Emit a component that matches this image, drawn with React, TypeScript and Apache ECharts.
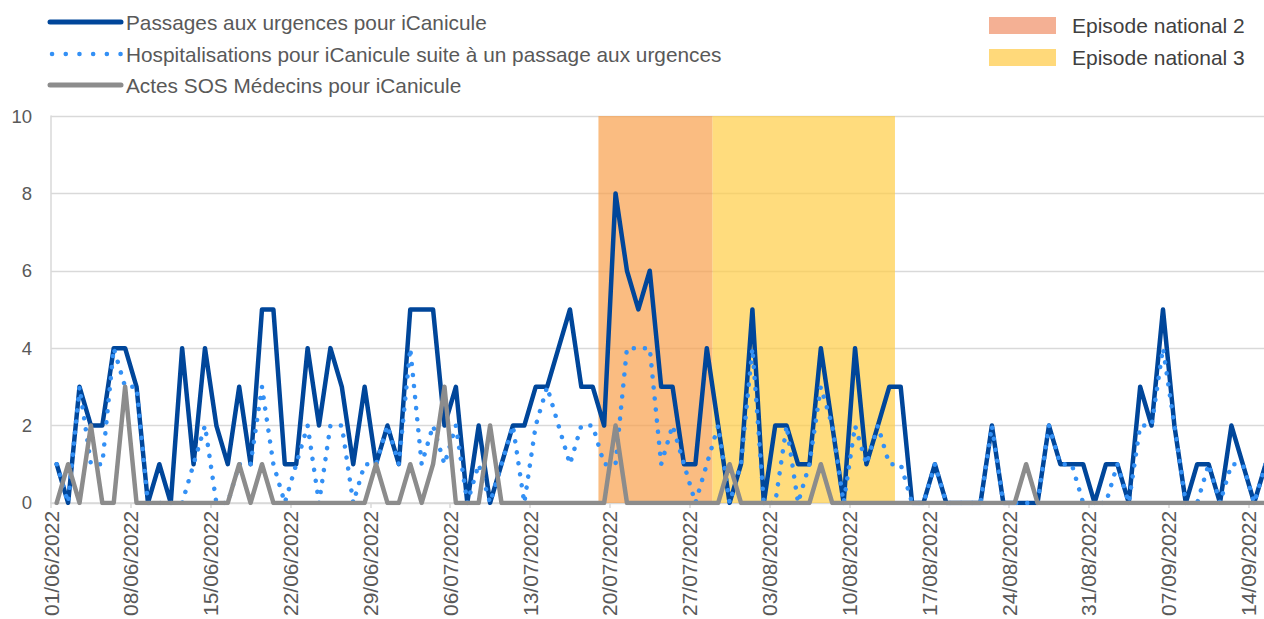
import React, { useEffect, useRef } from 'react';
import * as echarts from 'echarts';

// Day 0 = 01/06/2022; each daily value sits in the middle of its day.
const startDate = '01/06/2022';
const tickLabels = [
  '01/06/2022', '08/06/2022', '15/06/2022', '22/06/2022', '29/06/2022', '06/07/2022',
  '13/07/2022', '20/07/2022', '27/07/2022', '03/08/2022', '10/08/2022', '17/08/2022',
  '24/08/2022', '31/08/2022', '07/09/2022', '14/09/2022',
];

const passages = [
  1, 0, 3, 2, 2, 4, 4, 3, 0, 1,
  0, 4, 1, 4, 2, 1, 3, 1, 5, 5,
  1, 1, 4, 2, 4, 3, 1, 3, 1, 2,
  1, 5, 5, 5, 2, 3, 0, 2, 0, 1,
  2, 2, 3, 3, 4, 5, 3, 3, 2, 8,
  6, 5, 6, 3, 3, 1, 1, 4, 2, 0,
  1, 5, 0, 2, 2, 1, 1, 4, 2, 0,
  4, 1, 2, 3, 3, 0, 0, 1, 0, 0,
  0, 0, 2, 0, 0, 0, 0, 2, 1, 1,
  1, 0, 1, 1, 0, 3, 2, 5, 2, 0,
  1, 1, 0, 2, 1, 0, 1,
];

const hospitalisations = [
  1, 0, 3, 1, 1, 4, 3, 3, 0, 0,
  0, 0, 1, 2, 0, 0, 1, 1, 3, 1,
  0, 1, 2, 0, 2, 2, 0, 1, 1, 2,
  1, 4, 1, 2, 1, 2, 0, 1, 0, 1,
  2, 0, 2, 3, 2, 1, 2, 2, 1, 1,
  4, 4, 4, 1, 2, 1, 0, 1, 2, 0,
  1, 4, 0, 0, 2, 0, 1, 3, 2, 0,
  2, 1, 2, 1, 1, 0, 0, 1, 0, 0,
  0, 0, 2, 0, 0, 0, 0, 2, 1, 1,
  0, 0, 0, 1, 0, 2, 2, 4, 2, 0,
  0, 1, 0, 1, 1, 0, 1,
];

const sosMedecins = [
  0, 1, 0, 2, 0, 0, 3, 0, 0, 0,
  0, 0, 0, 0, 0, 0, 1, 0, 1, 0,
  0, 0, 0, 0, 0, 0, 0, 0, 1, 0,
  0, 1, 0, 1, 3, 0, 0, 0, 2, 0,
  0, 0, 0, 0, 0, 0, 0, 0, 0, 2,
  0, 0, 0, 0, 0, 0, 0, 0, 0, 1,
  0, 0, 0, 0, 0, 0, 0, 1, 0, 0,
  0, 0, 0, 0, 0, 0, 0, 0, 0, 0,
  0, 0, 0, 0, 0, 1, 0, 0, 0, 0,
  0, 0, 0, 0, 0, 0, 0, 0, 0, 0,
  0, 0, 0, 0, 0, 0, 0,
];

const episode2 = ['19/07/2022', '29/07/2022'];
const episode3 = ['29/07/2022', '14/08/2022'];

const seriesNames = [
  'Passages aux urgences pour iCanicule',
  'Hospitalisations pour iCanicule suite à un passage aux urgences',
  'Actes SOS Médecins pour iCanicule',
];
const episodeNames = ['Episode national 2', 'Episode national 3'];

const FONT = '"Liberation Sans", Arial, sans-serif';
const C_DARK = '#00469a';
const C_DOT = '#3390f5';
const C_GRAY = '#8c8c8c';

function parseDate(s: string) {
  const [d, m, y] = s.split('/').map(Number);
  return Date.UTC(y, m - 1, d);
}
function dayIndex(s: string) {
  return Math.round((parseDate(s) - parseDate(startDate)) / 86400000);
}

export default function App() {
  const ref = useRef<HTMLDivElement>(null);

  useEffect(() => {
    if (!ref.current) return;
    const chart = echarts.init(ref.current, undefined, { renderer: 'svg' });
    const toPts = (arr: number[]) => arr.map((v, i) => [i + 0.5, v]);
    const maxX = 1213 / 11.405;

    const option: any = {
      animation: false,
      textStyle: { fontFamily: FONT },
      grid: { left: 51, right: 0, top: 116, bottom: 114, containLabel: false },
      xAxis: {
        type: 'value',
        min: 0,
        max: maxX,
        interval: 7,
        axisLine: { show: true, onZero: false, lineStyle: { color: '#d9d9d9', width: 1.5 } },
        axisTick: { show: true, length: 5, lineStyle: { color: '#d9d9d9', width: 1.5 } },
        splitLine: { show: false },
        axisLabel: {
          rotate: 90,
          margin: 8,
          color: '#595959',
          fontSize: 21,
          fontFamily: FONT,
          showMaxLabel: false,
          formatter: (v: number) => {
            const k = Math.round(v / 7);
            if (Math.abs(v - k * 7) > 1e-6) return '';
            return tickLabels[k] ?? '';
          },
        },
      },
      yAxis: {
        type: 'value',
        min: 0,
        max: 10,
        interval: 2,
        axisLine: { show: true, lineStyle: { color: '#d9d9d9', width: 1.5 } },
        axisTick: { show: false },
        splitLine: { show: true, lineStyle: { color: '#d9d9d9', width: 1.3 } },
        axisLabel: { color: '#595959', fontSize: 18.5, fontFamily: FONT, margin: 19 },
      },
      series: [
        {
          name: seriesNames[0],
          type: 'line',
          data: toPts(passages),
          showSymbol: false,
          symbol: 'none',
          lineStyle: { color: C_DARK, width: 4.5, join: 'round', cap: 'round' },
          markArea: {
            silent: true,
            data: [
              [
                { name: episodeNames[0], xAxis: dayIndex(episode2[0]), itemStyle: { color: 'rgba(248,160,75,0.7)' } },
                { xAxis: dayIndex(episode2[1]) },
              ],
              [
                { name: episodeNames[1], xAxis: dayIndex(episode3[0]), itemStyle: { color: 'rgba(255,205,70,0.7)' } },
                { xAxis: dayIndex(episode3[1]) },
              ],
            ],
            label: { show: false },
          },
        },
        {
          name: seriesNames[1],
          type: 'line',
          data: toPts(hospitalisations),
          showSymbol: false,
          symbol: 'none',
          lineStyle: { color: C_DOT, width: 4.5, type: [0.1, 11], cap: 'round', join: 'round' },
        },
        {
          name: seriesNames[2],
          type: 'line',
          data: toPts(sosMedecins),
          showSymbol: false,
          symbol: 'none',
          lineStyle: { color: C_GRAY, width: 4.5, join: 'round', cap: 'round' },
        },
      ],
      graphic: [
        { type: 'line', shape: { x1: 50, y1: 22, x2: 121, y2: 22 }, style: { stroke: C_DARK, lineWidth: 5, lineCap: 'round' } },
        { type: 'text', x: 126, y: 22, style: { text: seriesNames[0], font: `20.8px ${FONT}`, fill: '#595959', verticalAlign: 'middle' } },
        { type: 'line', shape: { x1: 52, y1: 54, x2: 121, y2: 54 }, style: { stroke: C_DOT, lineWidth: 4.5, lineCap: 'round', lineDash: [0.1, 13.6] } },
        { type: 'text', x: 126, y: 54, style: { text: seriesNames[1], font: `20.8px ${FONT}`, fill: '#595959', verticalAlign: 'middle' } },
        { type: 'line', shape: { x1: 50, y1: 85, x2: 121, y2: 85 }, style: { stroke: C_GRAY, lineWidth: 5, lineCap: 'round' } },
        { type: 'text', x: 126, y: 85, style: { text: seriesNames[2], font: `20.8px ${FONT}`, fill: '#595959', verticalAlign: 'middle' } },
        { type: 'rect', shape: { x: 989, y: 17, width: 67, height: 17 }, style: { fill: '#f4b094' } },
        { type: 'text', x: 1072, y: 25.5, style: { text: episodeNames[0], font: `21px ${FONT}`, fill: '#404040', verticalAlign: 'middle' } },
        { type: 'rect', shape: { x: 989, y: 49, width: 67, height: 17 }, style: { fill: '#ffd97a' } },
        { type: 'text', x: 1072, y: 57.5, style: { text: episodeNames[1], font: `21px ${FONT}`, fill: '#404040', verticalAlign: 'middle' } },
      ],
    };

    chart.setOption(option);
    return () => chart.dispose();
  }, []);

  return (
    <div
      ref={ref}
      style={{ position: 'fixed', left: 0, top: 0, width: 1264, height: 619, background: '#fff' }}
    />
  );
}
